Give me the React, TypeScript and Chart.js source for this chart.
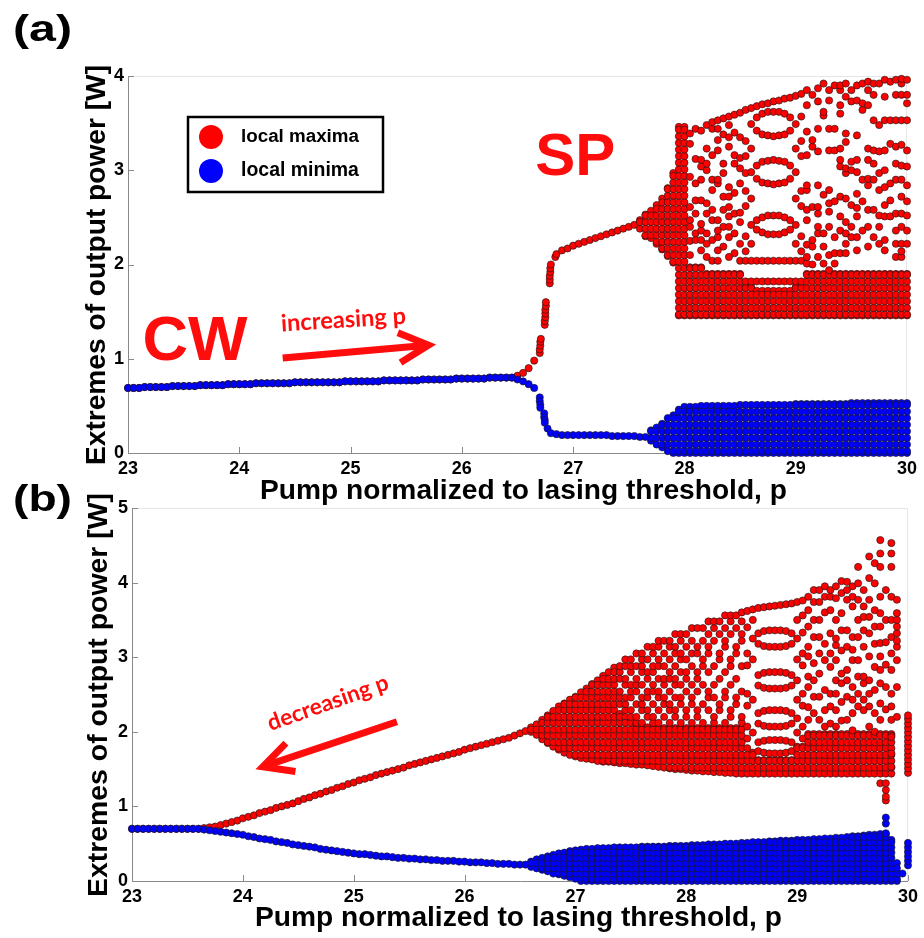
import React, { useEffect, useRef } from "react";
import { Chart, registerables } from "chart.js";

Chart.register(...registerables);

// ---------------------------------------------------------------- data
const SWEEP_STEP = 0.05; // step of the pump sweep, p

// ---------- panel (a): increasing p
const aCwStart = 23.0; // CW branch, p = 23.00 ... 26.45 (max = min)
const aCwPower = [
  0.69, 0.69, 0.69, 0.70, 0.70, 0.70, 0.70, 0.70, 0.71, 0.71,
  0.71, 0.71, 0.71, 0.72, 0.72, 0.72, 0.72, 0.72, 0.73, 0.73,
  0.73, 0.73, 0.73, 0.74, 0.74, 0.74, 0.74, 0.74, 0.74, 0.74,
  0.75, 0.75, 0.75, 0.75, 0.75, 0.75, 0.75, 0.75, 0.75, 0.76,
  0.76, 0.76, 0.76, 0.76, 0.76, 0.76, 0.77, 0.77, 0.77, 0.77,
  0.77, 0.77, 0.77, 0.78, 0.78, 0.78, 0.78, 0.78, 0.78, 0.79,
  0.79, 0.79, 0.79, 0.79, 0.79, 0.80, 0.80, 0.80, 0.80, 0.80,
];
const aMaxJumpP = [26.5, 26.55, 26.6, 26.65, 26.7, 26.7, 26.705, 26.705, 26.71, 26.745, 26.745, 26.75, 26.75, 26.75, 26.755, 26.755, 26.79, 26.79, 26.79, 26.795, 26.795, 26.8, 26.84, 26.85];
const aMaxJumpV = [0.82, 0.85, 0.9, 0.98, 1.06, 1.1, 1.14, 1.18, 1.21, 1.36, 1.4, 1.44, 1.48, 1.52, 1.56, 1.6, 1.8, 1.84, 1.88, 1.92, 1.96, 2.0, 2.08, 2.11];
const aMaxBranchStart = 26.9;
const aMaxBranch = [2.15, 2.17, 2.2, 2.22, 2.24, 2.26, 2.28, 2.3, 2.32, 2.34, 2.36, 2.38, 2.4, 2.42];
const aMaxColStart = 27.6; // columns 27.60 ... 30.00
const aMaxRows = [1.47, 1.54, 1.61, 1.68, 1.75, 1.82, 1.89, 1.96, 2.03, 2.1, 2.17, 2.24, 2.31, 2.38, 2.45, 2.52, 2.59, 2.66, 2.73, 2.8, 2.87, 2.94, 3.01, 3.08, 3.15, 3.22, 3.29, 3.36, 3.43];
const aMaxLo = [
  2.38, 2.3, 2.28, 2.22, 2.16, 2.09, 2.02, 1.46, 1.46,
  1.46, 1.46, 1.46, 1.46, 1.46, 1.46, 1.46, 1.46, 1.46, 1.46,
  1.46, 1.46, 1.46, 1.46, 1.46, 1.46, 1.46, 1.46, 1.46, 1.46, 1.46,
  1.46, 1.46, 1.46, 1.46, 1.46, 1.46, 1.46, 1.46, 1.46, 1.46,
  1.46, 1.46, 1.46, 1.46, 1.46, 1.46, 1.46, 1.46, 1.46,
];
const aMaxHi = [
  2.47, 2.53, 2.57, 2.63, 2.7, 2.81, 2.97, 3.46, 3.46,
  1.97, 1.97, 1.97, 1.9, 1.9, 1.9, 1.9, 1.9, 1.9, 1.9,
  1.76, 1.76, 1.72, 1.72, 1.72, 1.72, 1.72, 1.72, 1.72, 1.76, 1.76,
  1.9, 1.9, 1.9, 1.9, 1.9, 1.9, 1.9, 1.9, 1.9, 1.9,
  1.9, 1.9, 1.9, 1.9, 1.9, 1.9, 1.9, 1.9, 1.9,
];
const aMaxExtra = [
  [], [], [], [], [], [], [], [], [],
  [2.1, 2.25, 2.4, 2.47, 2.61, 2.93, 3.28, 3.39],
  [2.26, 2.33, 2.54, 2.68, 2.86, 3.12, 3.44],
  [2.15, 2.26, 2.36, 2.43, 2.68, 2.9, 3.04, 3.11, 3.42],
  [2.08, 2.22, 2.33, 2.54, 2.65, 3.0, 3.07, 3.23, 3.48],
  [2.04, 2.26, 2.47, 2.58, 2.79, 2.9, 3.16, 3.44, 3.51],
  [2.04, 2.15, 2.29, 2.36, 2.47, 2.86, 2.9, 3.21, 3.32, 3.44, 3.53],
  [2.19, 2.4, 2.58, 2.72, 2.97, 3.07, 3.38, 3.55],
  [2.08, 2.29, 2.4, 2.51, 2.61, 2.72, 2.82, 3.25, 3.35, 3.48, 3.57],
  [2.12, 2.33, 2.54, 2.76, 3.07, 3.16, 3.4, 3.59],
  [2.04, 2.22, 2.45, 2.55, 2.86, 3.02, 3.13, 3.35, 3.61],
  [1.82, 2.04, 2.14, 2.3, 2.62, 2.78, 2.97, 3.15, 3.31, 3.64],
  [1.82, 2.04, 2.22, 2.42, 2.7, 2.98, 3.23, 3.49, 3.66],
  [1.82, 2.04, 2.37, 2.47, 2.91, 3.05, 3.42, 3.56, 3.68],
  [1.82, 2.04, 2.34, 2.5, 2.87, 3.09, 3.38, 3.6, 3.7],
  [1.82, 2.04, 2.32, 2.52, 2.86, 3.1, 3.37, 3.62, 3.71],
  [1.82, 2.04, 2.32, 2.52, 2.85, 3.11, 3.36, 3.62, 3.73],
  [1.82, 2.04, 2.32, 2.52, 2.86, 3.1, 3.37, 3.62, 3.74],
  [1.82, 2.04, 2.34, 2.5, 2.87, 3.09, 3.38, 3.6, 3.76],
  [1.82, 2.04, 2.37, 2.47, 2.91, 3.05, 3.42, 3.56, 3.77],
  [1.82, 2.04, 2.22, 2.42, 2.7, 2.98, 3.23, 3.49, 3.79],
  [1.82, 2.04, 2.14, 2.3, 2.62, 2.78, 3.15, 3.31, 3.57, 3.81],
  [2.01, 2.08, 2.21, 2.47, 2.58, 2.79, 2.84, 3.16, 3.41, 3.69, 3.85],
  [2.0, 2.19, 2.26, 2.61, 3.25, 3.32, 3.8],
  [2.08, 2.33, 2.4, 2.54, 2.61, 2.84, 3.2, 3.44, 3.73, 3.87],
  [2.01, 2.19, 2.33, 2.74, 3.58, 3.62, 3.92],
  [1.94, 2.1, 2.4, 2.56, 2.65, 2.79, 3.21, 3.44, 3.74, 3.85],
  [2.01, 2.12, 2.29, 2.67, 3.21, 3.44, 3.9],
  [2.12, 2.36, 2.51, 2.72, 3.04, 3.11, 3.23, 3.6, 3.69, 3.85, 3.9],
  [2.12, 2.22, 2.33, 2.45, 2.7, 2.97, 3.02, 3.3, 3.39, 3.78, 3.92],
  [2.29, 2.4, 2.63, 3.0, 3.09, 3.73, 3.85],
  [2.15, 2.29, 2.51, 2.6, 2.75, 2.98, 3.11, 3.37, 3.74, 3.9],
  [2.36, 2.67, 2.9, 3.64, 3.71, 3.92],
  [2.19, 2.4, 2.58, 2.84, 2.91, 3.11, 3.23, 3.69, 3.85, 3.94],
  [2.29, 2.58, 2.9, 3.07, 3.21, 3.53, 3.8, 3.92],
  [2.22, 2.4, 2.52, 2.79, 2.97, 3.2, 3.48, 3.92],
  [2.15, 2.26, 2.51, 2.63, 2.82, 3.0, 3.21, 3.53, 3.78, 3.96],
  [2.51, 2.68, 2.86, 3.28, 3.53, 3.94],
  [2.08, 2.22, 2.36, 2.54, 2.9, 3.07, 3.25, 3.53, 3.8, 3.96],
  [2.08, 2.14, 2.22, 2.4, 2.54, 2.72, 2.9, 3.05, 3.27, 3.53, 3.8, 3.92, 3.97],
  [2.22, 2.36, 2.52, 2.67, 2.84, 3.04, 3.21, 3.53, 3.71, 3.8, 3.96],
];
const aMinJumpP = [26.5, 26.55, 26.6, 26.65, 26.7, 26.7, 26.705, 26.705, 26.74, 26.74, 26.745, 26.745, 26.77, 26.8, 26.85];
const aMinJumpV = [0.78, 0.76, 0.73, 0.69, 0.59, 0.55, 0.51, 0.48, 0.42, 0.38, 0.35, 0.32, 0.26, 0.21, 0.2];
const aMinBranchStart = 26.9;
const aMinBranch = [0.19, 0.19, 0.19, 0.19, 0.19, 0.19, 0.19, 0.19, 0.19, 0.18, 0.18, 0.18, 0.18, 0.18, 0.17, 0.17];
const aMinColStart = 27.7; // columns 27.70 ... 30.00
const aMinRows = [0.02, 0.09, 0.16, 0.23, 0.3, 0.37, 0.44, 0.51];
const aMinLo = [
  0.13, 0.09, 0.06, 0.02, 0.0, 0.0,
  0, 0, 0, 0, 0, 0, 0, 0, 0, 0, 0, 0, 0, 0, 0, 0, 0, 0, 0, 0, 0,
  0, 0, 0, 0, 0, 0, 0, 0, 0, 0, 0, 0, 0, 0, 0, 0, 0, 0, 0, 0,
];
const aMinHi = [
  0.24, 0.27, 0.31, 0.37, 0.4, 0.46,
  0.49, 0.49, 0.49, 0.5, 0.5, 0.5, 0.5, 0.5, 0.5, 0.5, 0.51, 0.51, 0.51, 0.51, 0.51,
  0.51, 0.51, 0.51, 0.51, 0.51, 0.52, 0.52, 0.52, 0.52, 0.52, 0.52, 0.52, 0.52, 0.52, 0.52,
  0.53, 0.53, 0.53, 0.53, 0.53, 0.53, 0.53, 0.53, 0.53, 0.53, 0.53,
];

// ---------- panel (b): decreasing p
const bSweepStart = 23.0; // p = 23.00 ... 26.55
const bMaxSmooth = [
  0.7, 0.7, 0.7, 0.7, 0.7, 0.7, 0.7, 0.7, 0.7, 0.7, 0.7, 0.7, 0.7,
  0.71, 0.72, 0.73, 0.75, 0.77, 0.79, 0.81,
  0.84, 0.86, 0.88, 0.91, 0.93, 0.95, 0.98, 1.0, 1.02, 1.04,
  1.07, 1.1, 1.12, 1.15, 1.17, 1.2, 1.22, 1.25, 1.27, 1.3,
  1.32, 1.35, 1.37, 1.39, 1.42, 1.44, 1.46, 1.48, 1.5, 1.52,
  1.55, 1.57, 1.59, 1.61, 1.63, 1.65, 1.67, 1.69, 1.71, 1.73,
  1.76, 1.78, 1.8, 1.82, 1.84, 1.86, 1.88, 1.9, 1.92, 1.95,
  1.98, 2.01,
];
const bMinSmooth = [
  0.7, 0.7, 0.7, 0.7, 0.7, 0.7, 0.7, 0.7, 0.7, 0.7, 0.7, 0.7, 0.7,
  0.69, 0.68, 0.67, 0.66, 0.65, 0.64, 0.63,
  0.62, 0.6, 0.59, 0.57, 0.56, 0.55, 0.53, 0.52, 0.51, 0.49,
  0.48, 0.47, 0.46, 0.45, 0.43, 0.42, 0.41, 0.4, 0.39, 0.38,
  0.37, 0.36, 0.36, 0.35, 0.34, 0.33, 0.33, 0.32, 0.31, 0.31,
  0.3, 0.3, 0.29, 0.29, 0.28, 0.28, 0.27, 0.27, 0.27, 0.26,
  0.26, 0.25, 0.25, 0.25, 0.24, 0.24, 0.23, 0.23, 0.23, 0.22,
  0.22, 0.22,
];
const bColStart = 26.6; // columns 26.60 ... 29.90
const bMaxRows = [1.44, 1.52, 1.61, 1.69, 1.78, 1.86, 1.95, 2.03, 2.12, 2.2, 2.29, 2.37, 2.46, 2.54, 2.63, 2.71, 2.8, 2.88, 2.97, 3.05, 3.14, 3.22, 3.31, 3.39, 3.48, 3.56, 3.65, 3.73];
const bMaxLo = [
  2.0, 1.96, 1.9, 1.85, 1.8, 1.76, 1.72, 1.69, 1.67,
  1.65, 1.64, 1.63, 1.61, 1.6, 1.6, 1.59, 1.58, 1.58, 1.57,
  1.56, 1.56, 1.55, 1.54, 1.53, 1.52, 1.51, 1.5, 1.5, 1.49,
  1.48, 1.48, 1.47, 1.47, 1.46, 1.46, 1.45, 1.45, 1.44,
  1.44, 1.44, 1.44, 1.44, 1.44, 1.44, 1.44, 1.44, 1.44, 1.44,
  1.44, 1.44, 1.44, 1.44, 1.44, 1.44, 1.44, 1.44, 1.44, 1.44,
  1.44, 1.44, 1.44, 1.44, 1.44, 1.44, 1.44, 1.44, 1.44,
];
const bMaxHi = [
  2.06, 2.1, 2.16, 2.22, 2.28, 2.34, 2.38, 2.43, 2.47,
  2.53, 2.58, 2.64, 2.69, 2.75, 2.8, 2.86,
  2.24, 2.2, 2.15, 2.1, 2.08, 2.06, 2.05, 2.05, 2.05, 2.05,
  2.05, 2.05, 2.05, 2.05, 2.05, 2.05, 2.05, 2.05, 2.05, 2.05,
  2.05, 2.05, 2.05,
  1.78, 1.72,
  1.62, 1.62, 1.62, 1.62, 1.62, 1.62, 1.62,
  1.8, 1.8,
  1.97, 1.97, 1.97, 1.97, 1.97, 1.97, 1.97, 1.97, 1.97, 1.97, 1.97, 1.97, 1.97, 1.97,
  1.97, 1.97,
  0,
];
const bMaxExtra = [
  [], [], [], [], [], [], [], [], [], [], [], [], [], [], [], [],
  [2.37, 2.46, 2.54, 2.71, 2.8, 2.88],
  [2.29, 2.37, 2.46, 2.63, 2.71, 2.88, 2.97],
  [2.2, 2.29, 2.46, 2.54, 2.63, 2.8, 2.88, 2.97],
  [2.12, 2.2, 2.37, 2.54, 2.63, 2.71, 2.88, 3.05],
  [2.12, 2.29, 2.37, 2.46, 2.63, 2.8, 2.88, 2.97, 3.05],
  [2.2, 2.29, 2.46, 2.54, 2.71, 2.8, 2.97, 3.14],
  [2.12, 2.2, 2.37, 2.54, 2.63, 2.8, 2.88, 3.05, 3.14],
  [2.12, 2.29, 2.46, 2.54, 2.71, 2.88, 2.97, 3.14, 3.22],
  [2.2, 2.37, 2.46, 2.63, 2.71, 2.88, 3.05, 3.22],
  [2.12, 2.29, 2.37, 2.54, 2.71, 2.8, 2.97, 3.14, 3.22],
  [2.2, 2.29, 2.46, 2.63, 2.71, 2.88, 3.05, 3.14, 3.31],
  [2.12, 2.37, 2.46, 2.63, 2.8, 2.97, 3.05, 3.22, 3.31],
  [2.2, 2.29, 2.54, 2.71, 2.8, 2.97, 3.14, 3.31],
  [2.12, 2.37, 2.46, 2.63, 2.88, 3.05, 3.22, 3.39],
  [2.2, 2.29, 2.54, 2.71, 2.8, 3.05, 3.14, 3.39],
  [2.12, 2.37, 2.63, 2.88, 2.97, 3.22, 3.39],
  [2.29, 2.46, 2.54, 2.8, 3.05, 3.14, 3.31, 3.48],
  [2.12, 2.2, 2.46, 2.63, 2.88, 3.22, 3.39, 3.48],
  [2.29, 2.37, 2.71, 2.97, 3.05, 3.31, 3.48],
  [2.12, 2.46, 2.54, 2.8, 3.14, 3.22, 3.39, 3.56],
  [2.2, 2.29, 2.63, 2.88, 2.97, 3.31, 3.48, 3.56],
  [2.37, 2.46, 2.71, 3.05, 3.14, 3.39, 3.56],
  [2.12, 2.2, 2.54, 2.88, 3.22, 3.31, 3.48, 3.6],
  [1.91, 2.07, 2.35, 2.51, 2.89, 3.05, 3.4, 3.62],
  [1.99, 2.43, 2.97, 3.25, 3.5, 3.64],
  [1.74, 1.86, 2.11, 2.25, 2.62, 2.76, 3.18, 3.32, 3.66],
  [1.72, 1.88, 2.08, 2.28, 2.59, 2.79, 3.15, 3.35, 3.67],
  [1.71, 1.89, 2.07, 2.29, 2.58, 2.8, 3.14, 3.36, 3.68],
  [1.71, 1.89, 2.07, 2.29, 2.58, 2.8, 3.14, 3.36, 3.69],
  [1.71, 1.89, 2.07, 2.29, 2.58, 2.8, 3.14, 3.36, 3.7],
  [1.72, 1.88, 2.08, 2.28, 2.59, 2.79, 3.15, 3.35, 3.71],
  [1.74, 1.86, 2.11, 2.25, 2.62, 2.76, 3.18, 3.32, 3.72],
  [1.99, 2.18, 2.43, 2.69, 2.97, 3.25, 3.5, 3.74],
  [1.91, 2.07, 2.35, 2.51, 2.89, 3.05, 3.33, 3.56, 3.76],
  [2.16, 2.33, 2.6, 2.74, 3.01, 3.14, 3.41, 3.63, 3.81],
  [2.25, 2.47, 2.69, 2.92, 3.27, 3.5, 3.74, 3.9],
  [2.16, 2.47, 2.78, 3.05, 3.27, 3.5, 3.74, 3.9],
  [2.07, 2.29, 2.56, 2.96, 3.18, 3.6, 3.81, 3.95],
  [2.11, 2.34, 2.51, 2.87, 3.05, 3.32, 3.63, 3.81, 3.9],
  [2.07, 2.29, 2.51, 2.69, 2.96, 3.16, 3.25, 3.5, 3.79, 3.95],
  [2.15, 2.4, 2.65, 2.78, 3.09, 3.36, 3.59, 3.86, 4.02],
  [2.16, 2.47, 2.69, 2.83, 3.14, 3.36, 3.77, 3.9, 4.01],
  [2.02, 2.25, 2.43, 2.6, 2.96, 3.1, 3.27, 3.68, 3.81, 3.95],
  [2.34, 2.51, 2.74, 2.96, 3.27, 3.5, 3.77, 3.99, 4.21],
  [2.29, 2.43, 2.65, 2.74, 3.14, 3.36, 3.54, 3.68, 3.9],
  [2.07, 2.34, 2.51, 2.69, 3.01, 3.32, 3.54, 3.77, 4.06, 4.35],
  [2.0, 2.25, 2.56, 2.87, 3.18, 3.41, 3.63, 3.99, 4.26],
  [1.31, 2.16, 2.38, 2.65, 2.83, 3.01, 3.19, 3.41, 3.59, 3.81, 4.21, 4.39, 4.57],
  [1.08, 1.13, 1.22, 1.31, 2.3, 2.6, 2.9, 3.2, 3.5, 3.9],
  [1.53, 1.71, 1.93, 2.16, 2.34, 2.51, 2.83, 3.05, 3.27, 3.5, 3.81, 4.21, 4.39, 4.53],
  [2.2, 2.6, 2.96, 3.14, 3.22, 3.32, 3.41, 3.5, 3.59, 3.77],
];
const bMaxEndP = [30, 30, 30, 30, 30, 30, 30, 30, 30, 30, 30, 30, 30, 30];
const bMaxEndV = [1.45, 1.51, 1.57, 1.63, 1.69, 1.75, 1.81, 1.87, 1.93, 1.99, 2.05, 2.11, 2.17, 2.22];
const bMinRows = [0.03, 0.1, 0.17, 0.24, 0.31, 0.38, 0.45, 0.52, 0.59];
const bMinLo = [
  0.19, 0.17, 0.15, 0.13, 0.1, 0.09, 0.07, 0.05, 0.03,
  0, 0, 0, 0, 0, 0, 0, 0, 0, 0, 0, 0, 0, 0, 0, 0, 0, 0, 0, 0,
  0, 0, 0, 0, 0, 0, 0, 0, 0, 0, 0, 0, 0, 0, 0, 0, 0, 0, 0, 0,
  0, 0, 0, 0, 0, 0, 0, 0, 0, 0, 0, 0, 0, 0, 0, 0, 0, 0,
];
const bMinHi = [
  0.26, 0.29, 0.31, 0.33, 0.35, 0.37, 0.38, 0.4, 0.41,
  0.42, 0.43, 0.43, 0.44, 0.44,
  0.44, 0.45, 0.45, 0.45, 0.45, 0.45, 0.46, 0.46, 0.46, 0.46, 0.46, 0.47, 0.47, 0.47, 0.47,
  0.48, 0.48, 0.48, 0.49, 0.49, 0.49, 0.5, 0.5, 0.5, 0.51, 0.51, 0.52, 0.52, 0.52,
  0.53, 0.53, 0.54, 0.54, 0.54, 0.55, 0.55, 0.55, 0.56, 0.56, 0.57, 0.57, 0.58,
  0.58, 0.59, 0.6, 0.6, 0.61, 0.62, 0.62, 0.63, 0.63,
  0.55, 0.24,
];
const bMinLooseP = [29.8, 29.8, 29.8, 29.95, 30, 30, 30, 30, 30, 30];
const bMinLooseV = [0.64, 0.77, 0.85, 0.1, 0.21, 0.27, 0.33, 0.39, 0.45, 0.51];

// axis ranges and labels
const X_MIN = 23, X_MAX = 30;
const A_Y_MAX = 4, B_Y_MAX = 5;
const SERIES_LABELS = ["local maxima", "local minima"];
const X_TITLE = "Pump normalized to lasing threshold, p";
const Y_TITLE = "Extremes of output power [W]";

// ---------------------------------------------------------------- builders
type Pt = { x: number; y: number };
const r3 = (v: number) => Math.round(v * 1000) / 1000;
const sweep = (start: number, ys: number[]): Pt[] =>
  ys.map((y, i) => ({ x: r3(start + i * SWEEP_STEP), y }));
const pairs = (xs: number[], ys: number[]): Pt[] => xs.map((x, i) => ({ x, y: ys[i] }));
// a column = its envelope dots (lo, hi), the rows that fall inside the envelope, and loose extras
function columns(start: number, lo: number[], hi: number[], rows: number[], extra: number[][]): Pt[] {
  const out: Pt[] = [];
  lo.forEach((l, i) => {
    const x = r3(start + i * SWEEP_STEP);
    if (hi[i] >= l) {
      out.push({ x, y: l }, { x, y: hi[i] });
      rows.forEach((r) => {
        if (r > l && r < hi[i]) out.push({ x, y: r });
      });
    }
    (extra[i] || []).forEach((v) => out.push({ x, y: v }));
  });
  return out;
}

const aMaxData: Pt[] = [
  ...sweep(aCwStart, aCwPower),
  ...pairs(aMaxJumpP, aMaxJumpV),
  ...sweep(aMaxBranchStart, aMaxBranch),
  ...columns(aMaxColStart, aMaxLo, aMaxHi, aMaxRows, aMaxExtra),
];
const aMinData: Pt[] = [
  ...sweep(aCwStart, aCwPower),
  ...pairs(aMinJumpP, aMinJumpV),
  ...sweep(aMinBranchStart, aMinBranch),
  ...columns(aMinColStart, aMinLo, aMinHi, aMinRows, []),
];
const bMaxData: Pt[] = [
  ...sweep(bSweepStart, bMaxSmooth),
  ...columns(bColStart, bMaxLo, bMaxHi, bMaxRows, bMaxExtra),
  ...pairs(bMaxEndP, bMaxEndV),
];
const bMinData: Pt[] = [
  ...sweep(bSweepStart, bMinSmooth),
  ...columns(bColStart, bMinLo, bMinHi, bMinRows, []),
  ...pairs(bMinLooseP, bMinLooseV),
];

// ---------------------------------------------------------------- styles
const RED = "#ff0000";
const BLUE = "#0000ff";
const EDGE = "rgba(25,25,25,0.9)";
const TEXT_RED = "#ff0d0d";
const SANS = '"Liberation Sans", Arial, Helvetica, sans-serif';
const HUMAN = 'Lato, "Open Sans", "DejaVu Sans", sans-serif';

function setFitFont(ctx: CanvasRenderingContext2D, text: string, weight: string, family: string, width: number) {
  ctx.font = `${weight} 20px ${family}`;
  const w = ctx.measureText(text).width;
  const size = (20 * width) / w;
  ctx.font = `${weight} ${size.toFixed(2)}px ${family}`;
}

function drawArrow(ctx: CanvasRenderingContext2D, x0: number, y0: number, x1: number, y1: number) {
  const ang = Math.atan2(y0 - y1, x0 - x1);
  const L = 33, spread = (27 * Math.PI) / 180;
  ctx.save();
  ctx.strokeStyle = TEXT_RED;
  ctx.lineWidth = 7;
  ctx.lineCap = "butt";
  ctx.lineJoin = "miter";
  ctx.beginPath();
  ctx.moveTo(x0, y0);
  ctx.lineTo(x1 + Math.cos(ang) * 4, y1 + Math.sin(ang) * 4);
  ctx.stroke();
  ctx.beginPath();
  ctx.moveTo(x1 + Math.cos(ang + spread) * L, y1 + Math.sin(ang + spread) * L);
  ctx.lineTo(x1, y1);
  ctx.lineTo(x1 + Math.cos(ang - spread) * L, y1 + Math.sin(ang - spread) * L);
  ctx.stroke();
  ctx.restore();
}

type Deco = {
  panel: string;
  panelX: number;
  panelBase: number;
  xTitleCx: number;
  xTitleBase: number;
  xTitleW: number;
  yTitleBaseX: number;
  yTitleCy: number;
  yTitleW: number;
  extra: (chart: any) => void;
};

function decoPlugin(d: Deco) {
  return {
    id: "deco",
    beforeDatasetsDraw(chart: any) {
      const { ctx, chartArea: a } = chart;
      const xs = chart.scales.x, ys = chart.scales.y;
      ctx.save();
      ctx.lineWidth = 1;
      ctx.strokeStyle = "#e6e6e6";
      ctx.beginPath();
      ctx.moveTo(a.left, a.top + 0.5);
      ctx.lineTo(a.right, a.top + 0.5);
      ctx.moveTo(a.right - 0.5, a.top);
      ctx.lineTo(a.right - 0.5, a.bottom);
      ctx.stroke();
      ctx.strokeStyle = "#8a8a8a";
      ctx.beginPath();
      ctx.moveTo(a.left + 0.5, a.top);
      ctx.lineTo(a.left + 0.5, a.bottom + 0.5);
      ctx.lineTo(a.right, a.bottom + 0.5);
      xs.ticks.forEach((t: any) => {
        const px = Math.round(xs.getPixelForValue(t.value)) + 0.5;
        ctx.moveTo(px, a.bottom);
        ctx.lineTo(px, a.bottom - 6);
      });
      ys.ticks.forEach((t: any) => {
        const py = Math.round(ys.getPixelForValue(t.value)) + 0.5;
        ctx.moveTo(a.left, py);
        ctx.lineTo(a.left + 6, py);
      });
      ctx.stroke();
      ctx.restore();
    },
    afterDraw(chart: any) {
      const ctx: CanvasRenderingContext2D = chart.ctx;
      ctx.save();
      ctx.fillStyle = "#000";
      ctx.textAlign = "left";
      ctx.textBaseline = "alphabetic";
      // panel label, slightly widened like the heavy original
      ctx.save();
      ctx.translate(d.panelX, d.panelBase);
      ctx.font = `bold 37px ${SANS}`;
      const pw = ctx.measureText(d.panel).width;
      ctx.scale(59 / pw, 1);
      ctx.fillText(d.panel, 0, 0);
      ctx.restore();
      setFitFont(ctx, X_TITLE, "bold", SANS, d.xTitleW);
      ctx.textAlign = "center";
      ctx.fillText(X_TITLE, d.xTitleCx, d.xTitleBase);
      ctx.save();
      ctx.translate(d.yTitleBaseX, d.yTitleCy);
      ctx.rotate(-Math.PI / 2);
      setFitFont(ctx, Y_TITLE, "bold", SANS, d.yTitleW);
      ctx.fillText(Y_TITLE, 0, 0);
      ctx.restore();
      ctx.restore();
      d.extra(chart);
    },
  };
}

// annotation anchors in data coordinates (p, W)
const CW_AT = [23.13, 0.99];
const SP_AT = [26.66, 2.95];
const INC_TEXT_AT = [24.38, 1.29];
const INC_ARROW = [24.39, 1.007, 25.7, 1.145];
const DEC_TEXT_AT = [24.25, 2.01];
const DEC_ARROW = [25.39, 2.135, 24.18, 1.532];

function annotA(chart: any) {
  const ctx: CanvasRenderingContext2D = chart.ctx;
  const xs = chart.scales.x, ys = chart.scales.y;
  const P = (p: number, v: number) => [xs.getPixelForValue(p), ys.getPixelForValue(v)];
  ctx.save();
  ctx.fillStyle = TEXT_RED;
  ctx.textAlign = "left";
  ctx.textBaseline = "alphabetic";
  ctx.font = `bold 63px ${SANS}`;
  let [x, y] = P(CW_AT[0], CW_AT[1]);
  ctx.fillText("CW", x, y);
  ctx.font = `bold 60px ${SANS}`;
  [x, y] = P(SP_AT[0], SP_AT[1]);
  ctx.fillText("SP", x, y);
  [x, y] = P(INC_TEXT_AT[0], INC_TEXT_AT[1]);
  ctx.save();
  ctx.translate(x, y);
  ctx.rotate((-3.6 * Math.PI) / 180);
  setFitFont(ctx, "increasing p", "bold", HUMAN, 125);
  ctx.fillText("increasing p", 0, 0);
  ctx.restore();
  const [ax0, ay0] = P(INC_ARROW[0], INC_ARROW[1]);
  const [ax1, ay1] = P(INC_ARROW[2], INC_ARROW[3]);
  drawArrow(ctx, ax0, ay0, ax1, ay1);

  // legend
  const a = chart.chartArea;
  const bx = a.left + 60, by = a.top + 41, bw = 195, bh = 75;
  ctx.fillStyle = "#fff";
  ctx.fillRect(bx, by, bw, bh);
  ctx.lineWidth = 2.5;
  ctx.strokeStyle = "#000";
  ctx.strokeRect(bx, by, bw, bh);
  chart.data.datasets.forEach((ds: any, i: number) => {
    const cy = by + 20 + i * 34;
    ctx.beginPath();
    ctx.arc(bx + 23, cy, 12, 0, Math.PI * 2);
    ctx.fillStyle = ds.backgroundColor;
    ctx.fill();
    ctx.fillStyle = "#000";
    setFitFont(ctx, ds.label, "bold", SANS, 118);
    ctx.textBaseline = "middle";
    ctx.fillText(ds.label, bx + 53, cy);
  });
  ctx.restore();
}

function annotB(chart: any) {
  const ctx: CanvasRenderingContext2D = chart.ctx;
  const xs = chart.scales.x, ys = chart.scales.y;
  const P = (p: number, v: number) => [xs.getPixelForValue(p), ys.getPixelForValue(v)];
  ctx.save();
  ctx.fillStyle = TEXT_RED;
  ctx.textAlign = "left";
  ctx.textBaseline = "alphabetic";
  const [x, y] = P(DEC_TEXT_AT[0], DEC_TEXT_AT[1]);
  ctx.save();
  ctx.translate(x, y);
  ctx.rotate((-19.5 * Math.PI) / 180);
  setFitFont(ctx, "decreasing p", "bold", HUMAN, 127);
  ctx.fillText("decreasing p", 0, 0);
  ctx.restore();
  const [ax0, ay0] = P(DEC_ARROW[0], DEC_ARROW[1]);
  const [ax1, ay1] = P(DEC_ARROW[2], DEC_ARROW[3]);
  drawArrow(ctx, ax0, ay0, ax1, ay1);
  ctx.restore();
}

function makeConfig(o: {
  maxData: Pt[];
  minData: Pt[];
  yMax: number;
  yAxisW: number;
  xAxisH: number;
  padTop: number;
  padRight: number;
  radius: number;
  deco: Deco;
}): any {
  const tickFont = { family: SANS, size: 18, weight: "bold" as const };
  return {
    type: "scatter",
    data: {
      datasets: [
        {
          label: SERIES_LABELS[0],
          data: o.maxData,
          backgroundColor: RED,
          borderColor: EDGE,
          borderWidth: 0.7,
          pointRadius: o.radius,
          pointHoverRadius: o.radius,
          order: 2,
          clip: false,
        },
        {
          label: SERIES_LABELS[1],
          data: o.minData,
          backgroundColor: BLUE,
          borderColor: EDGE,
          borderWidth: 0.7,
          pointRadius: o.radius,
          pointHoverRadius: o.radius,
          order: 1,
          clip: false,
        },
      ],
    },
    options: {
      responsive: false,
      animation: false,
      devicePixelRatio: 1,
      events: [],
      layout: { padding: { top: o.padTop, right: o.padRight, left: 0, bottom: 0 } },
      plugins: { legend: { display: false }, tooltip: { enabled: false }, title: { display: false } },
      scales: {
        x: {
          type: "linear",
          min: X_MIN,
          max: X_MAX,
          afterFit: (s: any) => {
            s.height = o.xAxisH;
          },
          grid: { display: false, drawTicks: false },
          border: { display: false },
          ticks: { stepSize: 1, font: tickFont, color: "#000", padding: 5, maxRotation: 0, autoSkip: false },
        },
        y: {
          type: "linear",
          min: 0,
          max: o.yMax,
          afterFit: (s: any) => {
            s.width = o.yAxisW;
          },
          grid: { display: false, drawTicks: false },
          border: { display: false },
          ticks: { stepSize: 1, font: tickFont, color: "#000", padding: 4 },
        },
      },
    },
    plugins: [decoPlugin(o.deco)],
  };
}

export default function App() {
  const refA = useRef<HTMLCanvasElement>(null);
  const refB = useRef<HTMLCanvasElement>(null);
  useEffect(() => {
    const a = new Chart(
      refA.current!,
      makeConfig({
        maxData: aMaxData,
        minData: aMinData,
        yMax: A_Y_MAX,
        yAxisW: 128,
        xAxisH: 62,
        padTop: 76,
        padRight: 17,
        radius: 3.6,
        deco: {
          panel: "(a)",
          panelX: 13,
          panelBase: 41,
          xTitleCx: 523.5,
          xTitleBase: 499,
          xTitleW: 527,
          yTitleBaseX: 105,
          yTitleCy: 265,
          yTitleW: 400,
          extra: annotA,
        },
      })
    );
    const b = new Chart(
      refB.current!,
      makeConfig({
        maxData: bMaxData,
        minData: bMinData,
        yMax: B_Y_MAX,
        yAxisW: 132,
        xAxisH: 57,
        padTop: 38,
        padRight: 16,
        radius: 3.6,
        deco: {
          panel: "(b)",
          panelX: 13,
          panelBase: 41,
          xTitleCx: 518.5,
          xTitleBase: 456,
          xTitleW: 527,
          yTitleBaseX: 107,
          yTitleCy: 225,
          yTitleW: 404,
          extra: annotB,
        },
      })
    );
    return () => {
      a.destroy();
      b.destroy();
    };
  }, []);
  return (
    <div style={{ position: "fixed", left: 0, top: 0, width: 924, height: 938, background: "#fff", overflow: "hidden" }}>
      <canvas ref={refA} width={924} height={515} style={{ position: "absolute", left: 0, top: 0 }} />
      <canvas ref={refB} width={924} height={468} style={{ position: "absolute", left: 0, top: 470 }} />
    </div>
  );
}
